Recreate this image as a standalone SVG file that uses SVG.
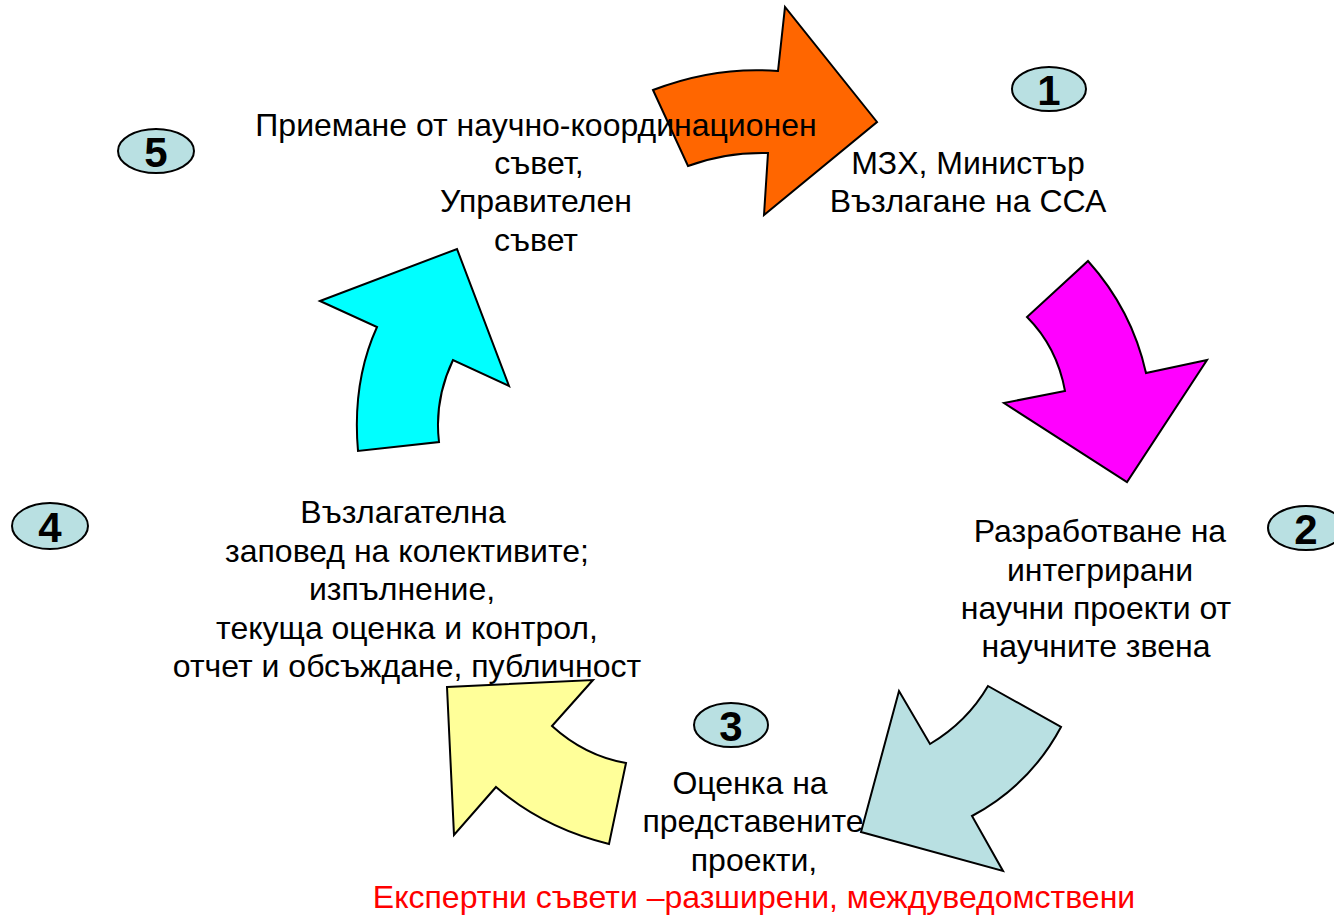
<svg xmlns="http://www.w3.org/2000/svg" width="1334" height="915" viewBox="0 0 1334 915">
<style>
.arr{stroke:#000;stroke-width:2;stroke-linejoin:miter}
.t{font-family:"Liberation Sans",Arial,sans-serif;font-size:32px;fill:#000;text-anchor:middle}
.n{font-family:"Liberation Sans",Arial,sans-serif;font-size:42px;font-weight:bold;fill:#000;text-anchor:middle}
.ov{fill:#b9e0e2;stroke:#000;stroke-width:2}
</style>
<rect width="1334" height="915" fill="#fff"/>
<g id="connectors">
<path id="arrow1" class="arr" fill="#ff6600" d="M653,90 Q715,66 778,71 L785,7 L877,122 L764,215 L768,153 Q725,152 688,166 Z"/>
<path id="arrow2" class="arr" fill="#ff00ff" d="M1088,261 Q1132,310 1146,373 L1207,360 L1127,482 L1004,403 L1065,391 Q1057,347 1027,317 Z"/>
<path id="arrow3" class="arr" fill="#b9e0e2" d="M988,686 L1061,727 Q1030,785 972,816 L1003,871 L861,832 L899,691 L930,744 Q967,722 988,686 Z"/>
<path id="arrow4" class="arr" fill="#ffff99" d="M447,687 L593,680 L552,726 Q585,756 626,763 L609,844 Q543,828 496,787 L454,835 Z"/>
<path id="arrow5" class="arr" fill="#00ffff" d="M320,301 L457,249 L509,386 L453,360 Q434,400 439,442 L358,451 Q352,382 377,327 Z"/>
</g>
<g id="node1">
<ellipse class="ov" cx="1049" cy="89" rx="37" ry="22"/>
<text class="n" x="1049" y="105">1</text>
<text class="t" x="968" y="174">МЗХ, Министър</text>
<text class="t" x="968" y="212">Възлагане на ССА</text>
</g>
<g id="node2">
<ellipse class="ov" cx="1306" cy="528" rx="38" ry="22"/>
<text class="n" x="1306" y="544">2</text>
<text class="t" x="1100" y="542">Разработване на</text>
<text class="t" x="1100" y="581">интегрирани</text>
<text class="t" x="1096" y="619">научни проекти от</text>
<text class="t" x="1096" y="657">научните звена</text>
</g>
<g id="node3">
<ellipse class="ov" cx="731" cy="725" rx="37" ry="22"/>
<text class="n" x="731" y="741">3</text>
<text class="t" x="750" y="794">Оценка на</text>
<text class="t" x="753" y="832">представените</text>
<text class="t" x="754" y="871">проекти,</text>
<text class="t" x="754" y="908" style="fill:#ff0000">Експертни съвети –разширени, междуведомствени</text>
</g>
<g id="node4">
<ellipse class="ov" cx="50" cy="526" rx="38" ry="23"/>
<text class="n" x="50" y="542">4</text>
<text class="t" x="403" y="523">Възлагателна</text>
<text class="t" x="407" y="562">заповед на колективите;</text>
<text class="t" x="402" y="600">изпълнение,</text>
<text class="t" x="407" y="639">текуща оценка и контрол,</text>
<text class="t" x="407" y="677">отчет и обсъждане, публичност</text>
</g>
<g id="node5">
<ellipse class="ov" cx="156" cy="151" rx="38" ry="22"/>
<text class="n" x="156" y="167">5</text>
<text class="t" x="536" y="136">Приемане от научно-координационен</text>
<text class="t" x="539" y="174">съвет,</text>
<text class="t" x="536" y="212">Управителен</text>
<text class="t" x="536" y="251">съвет</text>
</g>
</svg>
